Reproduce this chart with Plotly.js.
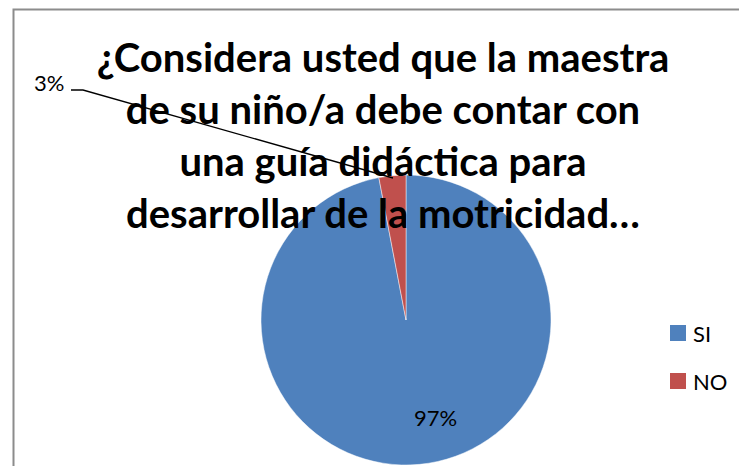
<!DOCTYPE html>
<html>
<head>
<meta charset="utf-8">
<script src="https://cdn.plot.ly/plotly-3.0.1.min.js"></script>
<style>html,body{margin:0;padding:0;background:#fff;}#chart{width:739px;height:466px;}</style>
</head>
<body>
<div id="chart"></div>
<script>
// Data
const categories = ['SI', 'NO'];
const values = [97, 3];
const colors = ['#4F81BD', '#C0504D'];
const titleLines = ['¿Considera usted que la maestra', 'de su niño/a debe contar con', 'una guía didáctica para', 'desarrollar de la motricidad…'];

const W = 739, H = 466;
const px = x => x / W;
const py = y => 1 - y / H;

const total = values.reduce((a, b) => a + b, 0);
const pct = values.map(v => Math.round(v / total * 100) + '%');

const FONT = 'Lato, "Open Sans", sans-serif';

const data = [{
  type: 'pie',
  labels: categories,
  values: values,
  sort: false,
  direction: 'clockwise',
  rotation: 0,
  textinfo: 'none',
  hoverinfo: 'label+percent',
  marker: {colors: colors, line: {color: 'rgba(255,255,255,0.6)', width: 0.8}},
  domain: {x: [px(261), px(551)], y: [py(465), py(175)]},
  showlegend: false
}];

const lbl = (text, x, y, xanchor) => ({text: text, x: px(x), y: py(y), xref: 'paper', yref: 'paper',
  xanchor: xanchor || 'center', yanchor: 'middle', showarrow: false,
  font: {family: FONT, size: 22, color: '#000'}});

const annotations = [
  lbl(pct[0], 435.5, 417),
  lbl(pct[1], 48.5, 82),
];
const shapes = [
  {type: 'rect', xref: 'paper', yref: 'paper', x0: px(13.5), y0: py(9.5), x1: px(800), y1: py(520),
   line: {color: '#8c8c8c', width: 2}, fillcolor: 'rgba(0,0,0,0)', layer: 'below'},
  {type: 'path', xref: 'paper', yref: 'paper', layer: 'above',
   path: `M ${px(71)} ${py(90)} L ${px(83)} ${py(90)} L ${px(393)} ${py(178)}`,
   line: {color: '#000', width: 1.3}}
];
// custom legend
const legY = [333, 381];
categories.forEach((c, i) => {
  shapes.push({type: 'rect', xref: 'paper', yref: 'paper', x0: px(670), x1: px(686), y0: py(legY[i] - 8), y1: py(legY[i] + 8),
    fillcolor: colors[i], line: {width: 0}});
  annotations.push(lbl(c, 691, legY[i], 'left'));
});

const layout = {
  width: W, height: H,
  margin: {l: 0, r: 0, t: 0, b: 0},
  paper_bgcolor: '#fff',
  title: {
    text: '<b>' + titleLines.join('<br>') + '</b>',
    x: px(383), xanchor: 'center', y: py(72), yanchor: 'middle',
    font: {family: FONT, size: 40, color: '#000'}
  },
  showlegend: false,
  annotations: annotations,
  shapes: shapes
};

Plotly.newPlot('chart', data, layout, {displayModeBar: false, staticPlot: true});
</script>
</body>
</html>
